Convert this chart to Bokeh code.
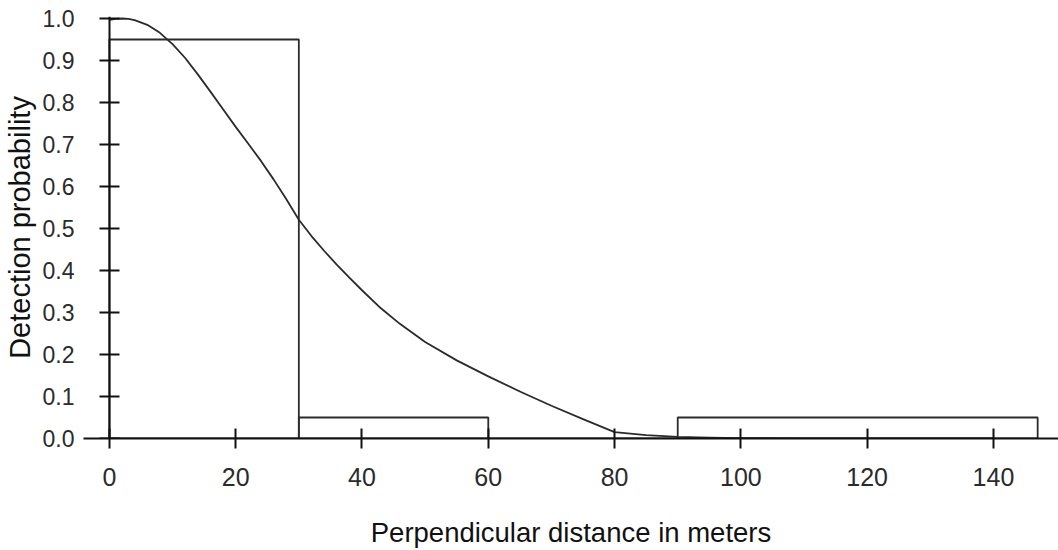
from bokeh.plotting import figure
from bokeh.models import FixedTicker, NumeralTickFormatter, Range1d, LinearAxis
from bokeh.embed import file_html
from bokeh.resources import INLINE

# Histogram of observed detections (bin edges and scaled heights)
bin_left = [0, 30, 60, 90]
bin_right = [30, 60, 90, 147]
bin_height = [0.95, 0.05, 0.0, 0.05]

# Fitted detection function
curve_x = [0, 1, 2, 3, 4, 6, 8, 10, 12, 14, 16, 18, 20, 22, 24, 26, 28, 30, 32, 34, 36, 38, 40,
           43, 46, 50, 55, 60, 65, 70, 75, 80, 85, 90, 95, 100, 110, 120, 140]
curve_y = [0.997, 0.999, 1.0, 0.999, 0.996, 0.985, 0.966, 0.939, 0.906, 0.867, 0.826, 0.784,
           0.742, 0.702, 0.661, 0.617, 0.570, 0.521, 0.482, 0.447, 0.414, 0.383, 0.353, 0.310,
           0.273, 0.230, 0.186, 0.148, 0.112, 0.078, 0.046, 0.015, 0.008, 0.004, 0.002, 0.001,
           0.0004, 0.0001, 0.0]

x_ticks = [0, 20, 40, 60, 80, 100, 120, 140]
y_ticks = [0.0, 0.1, 0.2, 0.3, 0.4, 0.5, 0.6, 0.7, 0.8, 0.9, 1.0]

INK = "#2b2b2b"
AXIS = "#111111"
FONT = "Liberation Sans"

p = figure(width=1058, height=550, output_backend="svg", toolbar_location=None,
           x_range=Range1d(-4.1, 150.3), y_range=Range1d(0, 1.0048),
           min_border_left=82, min_border_right=0, min_border_top=16, min_border_bottom=112)
p.outline_line_color = None
p.grid.visible = False
p.background_fill_color = "white"

p.quad(left=bin_left, right=bin_right, top=bin_height, bottom=0,
       fill_color=None, line_color=INK, line_width=1.8)
p.line(curve_x, curve_y, line_color=INK, line_width=1.8, line_join="round")

# x axis: regular axis at the bottom of the frame (y = 0)
xa = p.xaxis[0]
xa.ticker = FixedTicker(ticks=x_ticks)
xa.axis_line_color = AXIS
xa.axis_line_width = 2
xa.major_tick_line_color = AXIS
xa.major_tick_line_width = 2
xa.major_tick_in = 10
xa.major_tick_out = 10
xa.minor_tick_line_color = None
xa.major_label_text_font = FONT
xa.major_label_text_color = INK
xa.major_label_text_font_size = "25px"
xa.major_label_standoff = 19
xa.axis_label = "Perpendicular distance in meters"
xa.axis_label_text_font = FONT
xa.axis_label_text_color = AXIS
xa.axis_label_text_font_style = "normal"
xa.axis_label_text_font_size = "27.5px"
xa.axis_label_standoff = 28

# y axis labels: regular left axis without line or ticks
ya = p.yaxis[0]
ya.ticker = FixedTicker(ticks=y_ticks)
ya.formatter = NumeralTickFormatter(format="0.0")
ya.axis_line_color = None
ya.major_tick_line_color = None
ya.major_tick_in = 0
ya.major_tick_out = 0
ya.minor_tick_line_color = None
ya.major_label_text_font = FONT
ya.major_label_text_color = INK
ya.major_label_text_font_size = "23px"
ya.major_label_standoff = 9
ya.axis_label = "Detection probability"
ya.axis_label_text_font = FONT
ya.axis_label_text_color = AXIS
ya.axis_label_text_font_style = "normal"
ya.axis_label_text_font_size = "29px"
ya.axis_label_standoff = 4

# y axis line and crossing ticks at x = 0
ya2 = LinearAxis(fixed_location=0, ticker=FixedTicker(ticks=y_ticks))
ya2.axis_line_color = AXIS
ya2.axis_line_width = 2
ya2.major_tick_line_color = AXIS
ya2.major_tick_line_width = 2
ya2.major_tick_in = 10
ya2.major_tick_out = 10
ya2.minor_tick_line_color = None
ya2.major_label_text_color = None
ya2.major_label_text_font_size = "1px"
p.add_layout(ya2, "left")

open("out.html", "w").write(file_html(p, INLINE))
